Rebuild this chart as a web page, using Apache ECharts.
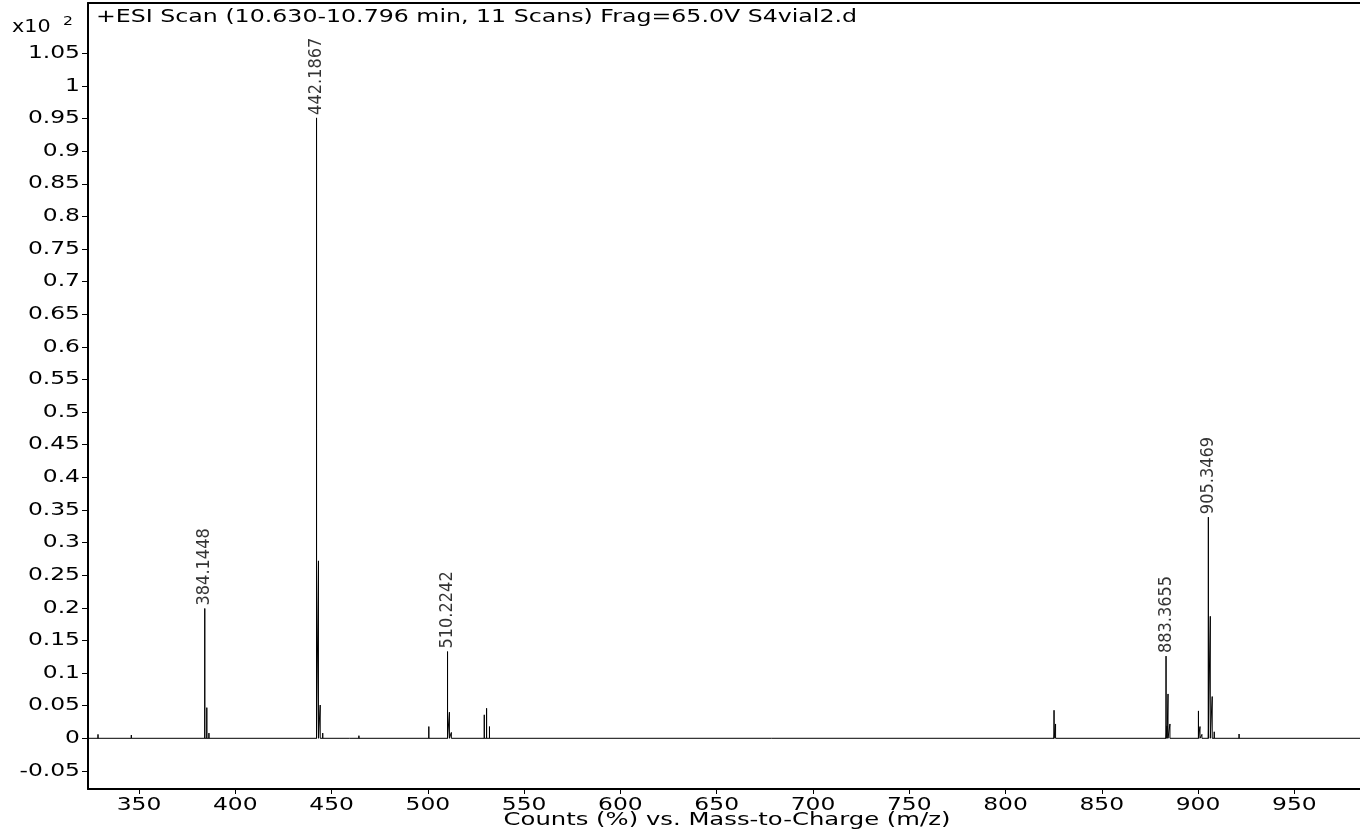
<!DOCTYPE html>
<html>
<head>
<meta charset="utf-8">
<title>+ESI Scan S4vial2.d</title>
<script src="https://cdn.jsdelivr.net/npm/echarts@6/dist/echarts.min.js"></script>
<style>
  html, body { margin: 0; padding: 0; background: #fff; }
  #chart { width: 1360px; height: 832px; }
</style>
</head>
<body>
<div id="chart"></div>
<script>
// Annotated peaks: m/z label text and relative abundance (x10^2 %)
const labeledMz = ['384.1448', '442.1867', '510.2242', '883.3655', '905.3469'];
const labeledHeight = [0.199, 0.951, 0.133, 0.126, 0.339];

// Unannotated isotope / minor peaks
const minorMz = [328.7, 346.0, 385.2, 386.3, 443.19, 444.1, 445.4, 459.4, 464.2,
                 500.5, 511.2, 512.2, 529.3, 530.5, 532.0, 825.2, 826.0,
                 883.9, 884.4, 885.4, 900.2, 901.0, 902.0, 906.35, 907.35, 908.4, 921.3];
const minorHeight = [0.006, 0.005, 0.047, 0.008, 0.272, 0.051, 0.008, 0.002, 0.004,
                     0.018, 0.040, 0.009, 0.036, 0.046, 0.018, 0.043, 0.022,
                     0.019, 0.068, 0.022, 0.042, 0.018, 0.006, 0.187, 0.064, 0.010, 0.0066];

// Axis ticks
const xTicks = [350, 400, 450, 500, 550, 600, 650, 700, 750, 800, 850, 900, 950];
const yTicks = [-0.05, 0, 0.05, 0.1, 0.15, 0.2, 0.25, 0.3, 0.35, 0.4, 0.45, 0.5,
                0.55, 0.6, 0.65, 0.7, 0.75, 0.8, 0.85, 0.9, 0.95, 1, 1.05];

const xMin = 323.5, xMax = 984.1;
const yMin = -0.0777, yMax = 1.1271;

// Build a stick spectrum: each peak rises from and returns to the baseline
const peaks = [];
labeledMz.forEach((m, i) => peaks.push([parseFloat(m), labeledHeight[i]]));
minorMz.forEach((m, i) => peaks.push([m, minorHeight[i]]));
peaks.sort((a, b) => a[0] - b[0]);
const stick = [[xMin, 0]];
peaks.forEach(([m, h]) => { stick.push([m, 0], [m, h], [m, 0]); });
stick.push([xMax, 0]);

const labelPoints = labeledMz.map((m, i) => ({ value: [parseFloat(m), labeledHeight[i]], name: m }));

const axisFont = '"DejaVu Sans", Arial, sans-serif';
const narrowFont = '"DejaVu Sans Condensed", "DejaVu Sans", sans-serif';
// the instrument software draws its sans text horizontally widened
const WIDE = 1.3;

const chart = echarts.init(document.getElementById('chart'), null, { renderer: 'canvas' });
chart.setOption({
  animation: false,
  backgroundColor: '#fff',
  grid: { left: 88, right: 0, top: 3, bottom: 43 },
  xAxis: [
    {
      type: 'value', min: xMin, max: xMax,
      axisLine: { show: true, onZero: false, lineStyle: { color: '#000', width: 2 } },
      axisTick: { show: true, customValues: xTicks, length: 5, lineStyle: { color: '#000', width: 1 } },
      axisLabel: { show: false },
      splitLine: { show: false }
    },
    {
      // plain frame line along the top of the plot
      type: 'value', position: 'top', min: xMin, max: xMax,
      axisLine: { show: true, onZero: false, lineStyle: { color: '#000', width: 2 } },
      axisTick: { show: false }, axisLabel: { show: false }, splitLine: { show: false }
    }
  ],
  yAxis: {
    type: 'value', min: yMin, max: yMax,
    axisLine: { show: true, onZero: false, lineStyle: { color: '#000', width: 2 } },
    axisTick: { show: true, customValues: yTicks, length: 6, lineStyle: { color: '#000', width: 1 } },
    axisLabel: { show: false },
    splitLine: { show: false }
  },
  series: [
    {
      type: 'line', data: stick, showSymbol: false, symbol: 'none',
      lineStyle: { color: '#000', width: 1 }, clip: true, silent: true
    },
    {
      type: 'scatter', data: labelPoints, symbolSize: 0, silent: true,
      label: {
        show: true, position: 'top', distance: 3, rotate: 90,
        align: 'left', verticalAlign: 'middle',
        formatter: p => p.name, color: '#000', fontSize: 18, fontFamily: narrowFont
      }
    }
  ]
});

// Tick labels in the widened face, placed through the axis scales
const gridRect = chart.getModel().getComponent('grid').coordinateSystem.getRect();
const bottomY = gridRect.y + gridRect.height;
const leftX = gridRect.x;
const wideText = (text, x, y, align, size, scaleX) => ({
  type: 'text', x: x, y: y, scaleX: scaleX, silent: true,
  style: { text: text, fill: '#000', font: size + 'px ' + axisFont, align: align, verticalAlign: 'middle' }
});
const graphics = [];
xTicks.forEach(v => {
  const px = chart.convertToPixel({ xAxisIndex: 0 }, v);
  graphics.push(wideText(String(v), px, bottomY + 16, 'center', 18, WIDE));
});
yTicks.forEach(v => {
  const py = chart.convertToPixel({ yAxisIndex: 0 }, v);
  graphics.push(wideText(String(v), leftX - 8, py, 'right', 18, WIDE));
});
graphics.push(
  wideText('+ESI Scan (10.630-10.796 min, 11 Scans) Frag=65.0V S4vial2.d', leftX + 8, 17, 'left', 18, 1.315),
  wideText('x10', 12, 27, 'left', 18, 1.15),
  wideText('2', 63, 22, 'left', 13, 1.2),
  wideText('Counts (%) vs. Mass-to-Charge (m/z)', 727, 820, 'center', 18, 1.35)
);
chart.setOption({ graphic: graphics });
</script>
</body>
</html>
